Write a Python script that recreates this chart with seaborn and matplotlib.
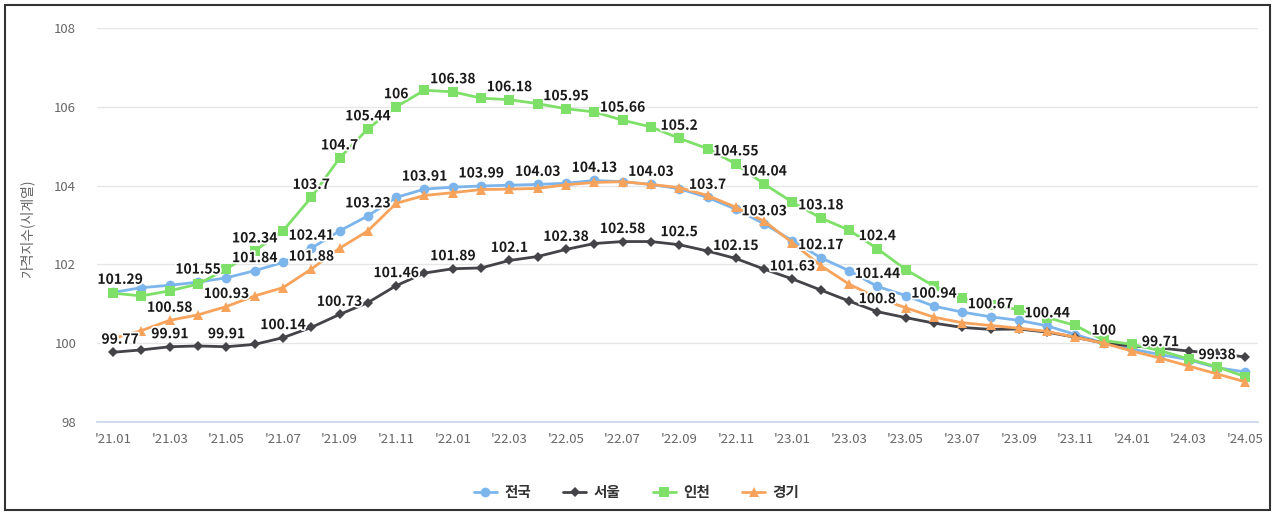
import matplotlib
matplotlib.use('Agg')
import matplotlib.pyplot as plt
import matplotlib.patheffects as pe
import seaborn as sns
import pandas as pd

# -----------------------------------------------------------
# data
# -----------------------------------------------------------
months = ["'21.01", "'21.02", "'21.03", "'21.04", "'21.05", "'21.06", "'21.07", "'21.08",
          "'21.09", "'21.10", "'21.11", "'21.12", "'22.01", "'22.02", "'22.03", "'22.04",
          "'22.05", "'22.06", "'22.07", "'22.08", "'22.09", "'22.10", "'22.11", "'22.12",
          "'23.01", "'23.02", "'23.03", "'23.04", "'23.05", "'23.06", "'23.07", "'23.08",
          "'23.09", "'23.10", "'23.11", "'23.12", "'24.01", "'24.02", "'24.03", "'24.04",
          "'24.05"]

national = [101.29, 101.41, 101.47, 101.55, 101.66, 101.84, 102.05, 102.41, 102.85, 103.23,
            103.70, 103.91, 103.96, 103.99, 104.01, 104.03, 104.06, 104.13, 104.10, 104.03,
            103.92, 103.70, 103.40, 103.03, 102.60, 102.17, 101.84, 101.44, 101.21, 100.94,
            100.79, 100.67, 100.58, 100.44, 100.22, 100.00, 99.85, 99.71, 99.58, 99.38, 99.27]
seoul = [99.77, 99.83, 99.91, 99.93, 99.91, 99.97, 100.14, 100.40, 100.73, 101.03,
         101.46, 101.78, 101.89, 101.91, 102.10, 102.20, 102.38, 102.53, 102.58, 102.58,
         102.50, 102.34, 102.15, 101.88, 101.63, 101.35, 101.07, 100.80, 100.65, 100.51,
         100.40, 100.35, 100.36, 100.28, 100.15, 100.00, 99.93, 99.88, 99.80, 99.74, 99.65]
incheon = [101.27, 101.20, 101.33, 101.50, 101.88, 102.34, 102.85, 103.70, 104.70, 105.44,
           106.00, 106.42, 106.38, 106.22, 106.18, 106.08, 105.95, 105.87, 105.66, 105.49,
           105.20, 104.94, 104.55, 104.04, 103.58, 103.18, 102.87, 102.40, 101.87, 101.45,
           101.14, 100.98, 100.85, 100.65, 100.45, 100.07, 99.97, 99.81, 99.60, 99.40, 99.15]
gyeonggi = [100.12, 100.32, 100.58, 100.72, 100.93, 101.20, 101.41, 101.88, 102.41, 102.85,
            103.55, 103.75, 103.82, 103.90, 103.91, 103.93, 104.02, 104.08, 104.10, 104.03,
            103.95, 103.75, 103.45, 103.10, 102.55, 101.97, 101.50, 101.15, 100.90, 100.66,
            100.52, 100.45, 100.38, 100.30, 100.15, 100.00, 99.80, 99.62, 99.42, 99.22, 99.02]

regions = ['전국', '서울', '인천', '경기']
series = {'전국': national, '서울': seoul, '인천': incheon, '경기': gyeonggi}

# which points carry a visible data label
label_idx = {
    '전국': [0, 3, 5, 7, 9, 11, 13, 15, 17, 19, 21, 23, 25, 27, 29, 31, 33, 35, 37, 39],
    '서울': [0, 2, 4, 6, 8, 10, 12, 14, 16, 18, 20, 22, 24, 27],
    '인천': [5, 7, 8, 9, 10, 12, 14, 16, 18, 20, 22, 23, 25, 27],
    '경기': [2, 4, 7],
}

colors = {'전국': '#7cb5ec', '서울': '#434348', '인천': '#7ee068', '경기': '#f7a35c'}
markers = {'전국': 'o', '서울': 'D', '인천': 's', '경기': '^'}

rows = []
for r in regions:
    for i, v in enumerate(series[r]):
        rows.append({'idx': i, 'value': v, 'region': r})
df = pd.DataFrame(rows)

# -----------------------------------------------------------
# style
# -----------------------------------------------------------
sns.set_theme(style='white')
plt.rcParams['font.family'] = ['Noto Sans CJK KR', 'DejaVu Sans']
plt.rcParams['axes.unicode_minus'] = False

W, H = 1273, 512
fig = plt.figure(figsize=(W / 100, H / 100), dpi=100)
ax = fig.add_axes([97 / W, 1 - 422 / H, (1258 - 97) / W, (422 - 28) / H])

sns.lineplot(data=df, x='idx', y='value', hue='region', style='region',
             hue_order=regions, style_order=regions, palette=colors,
             markers=markers, dashes=False, markersize=7, linewidth=2,
             markeredgewidth=0, ax=ax)

# make diamonds a bit smaller like the original
for line in ax.get_lines():
    if line.get_marker() == 'D':
        line.set_markersize(5.5)

# data labels
for r in regions:
    vals = series[r]
    for i in label_idx[r]:
        dx = 5 if i == 0 else 0
        ax.annotate(f"{vals[i]:g}", (i, vals[i]), xytext=(dx, 4),
                    textcoords='offset points', ha='center', va='bottom',
                    fontsize=10, fontweight='bold', color='#1a1a1a', zorder=10,
                    path_effects=[pe.withStroke(linewidth=2.5, foreground='white')])

# axes
ax.set_xlim(-0.57, 40.45)
ax.set_ylim(98, 108)
ax.set_yticks([98, 100, 102, 104, 106, 108])
ax.set_xticks(range(0, len(months), 2))
ax.set_xticklabels(months[::2])
ax.tick_params(axis='y', length=0, pad=15, labelsize=9.5, labelcolor='#666666')
ax.tick_params(axis='x', length=0, pad=8, labelsize=9.5, labelcolor='#666666')
ax.grid(axis='y', color='#e6e6e6', linewidth=1)
ax.set_axisbelow(True)
for s in ['top', 'right', 'left']:
    ax.spines[s].set_visible(False)
ax.spines['bottom'].set_color('#ccd6eb')
ax.set_xlabel('')
ax.set_ylabel('가격지수(시계열)', color='#666666', fontsize=10)
ax.yaxis.set_label_coords(-0.054, 0.49)

# legend at the bottom
handles, labels = ax.get_legend_handles_labels()
ax.get_legend().remove()
fig.legend(handles, labels, loc='center', bbox_to_anchor=(0.5, 1 - 492 / H), ncol=4,
           frameon=False, handlelength=1.6, columnspacing=2.2, handletextpad=0.5,
           prop={'size': 10.5, 'weight': 'bold'}, labelcolor='#333333')

# outer frame
fig.add_artist(plt.Rectangle((5 / W, 2 / H), (W - 8) / W, (H - 7) / H,
                             transform=fig.transFigure, fill=False,
                             edgecolor='#333333', linewidth=1.5))

fig.savefig('out.png', dpi=100)
